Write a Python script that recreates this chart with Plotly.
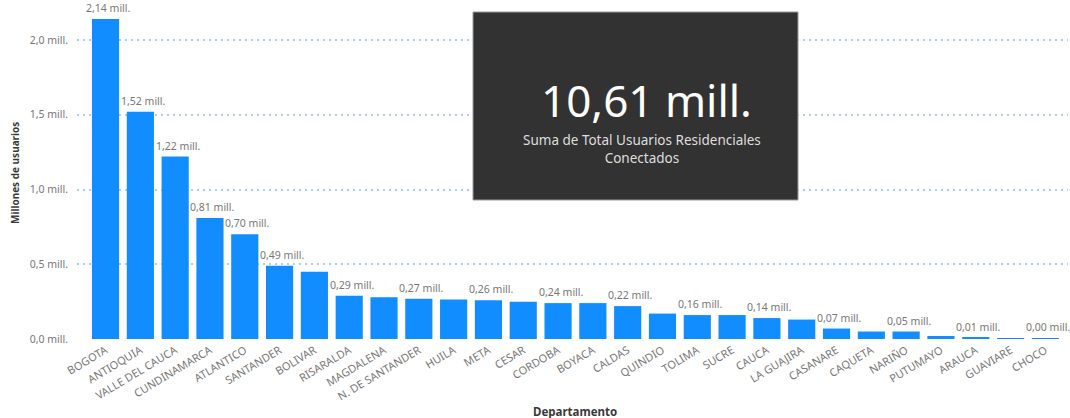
import plotly.graph_objects as go

# Usuarios residenciales conectados por departamento (millones)
departamentos = [
    "BOGOTA", "ANTIOQUIA", "VALLE DEL CAUCA", "CUNDINAMARCA", "ATLANTICO",
    "SANTANDER", "BOLIVAR", "RISARALDA", "MAGDALENA", "N. DE SANTANDER",
    "HUILA", "META", "CESAR", "CORDOBA", "BOYACA", "CALDAS", "QUINDIO",
    "TOLIMA", "SUCRE", "CAUCA", "LA GUAJIRA", "CASANARE", "CAQUETA",
    "NARIÑO", "PUTUMAYO", "ARAUCA", "GUAVIARE", "CHOCO",
]
usuarios = [
    2.14, 1.52, 1.22, 0.81, 0.70,
    0.49, 0.45, 0.29, 0.28, 0.27,
    0.265, 0.26, 0.25, 0.24, 0.24, 0.22, 0.17,
    0.16, 0.16, 0.14, 0.13, 0.07, 0.05,
    0.05, 0.02, 0.01, 0.005, 0.004,
]
# Departamentos con etiqueta de datos visible
con_etiqueta = {
    "BOGOTA", "ANTIOQUIA", "VALLE DEL CAUCA", "CUNDINAMARCA", "ATLANTICO",
    "SANTANDER", "RISARALDA", "N. DE SANTANDER", "META", "CORDOBA",
    "CALDAS", "TOLIMA", "CAUCA", "CASANARE", "NARIÑO", "ARAUCA", "CHOCO",
}
y_ticks = [0.0, 0.5, 1.0, 1.5, 2.0]


def mill(v, dec=2):
    return f"{v:.{dec}f}".replace(".", ",") + " mill."


FONT = "Noto Sans"
GRIS = "#777777"

# Área de trazado en píxeles
L, R, T, B = 77, 1068, 5, 339
W, H = R - L, B - T


def px(x):
    return (x - L) / W


def py(y):
    return (B - y) / H


fig = go.Figure()
fig.add_trace(go.Bar(
    x=departamentos,
    y=usuarios,
    marker=dict(color="#118DFF", line=dict(width=0)),
    hoverinfo="skip",
))

# Etiquetas de datos sobre las barras
for d, v in zip(departamentos, usuarios):
    if d in con_etiqueta:
        fig.add_annotation(
            x=d, y=v, text=mill(v), showarrow=False,
            yanchor="bottom", yshift=2, xshift=3,
            font=dict(family=FONT, size=10.5, color=GRIS),
        )

# Tarjeta con el total
total = sum(usuarios)
fig.add_shape(
    type="rect", xref="paper", yref="paper",
    x0=px(473), x1=px(798), y0=py(200), y1=py(12),
    fillcolor="#323232", line=dict(color="#9a9a9a", width=1), layer="above",
)
fig.add_annotation(
    xref="paper", yref="paper", x=px(646), y=py(100),
    text=mill(total), showarrow=False, yanchor="middle", xanchor="center",
    font=dict(family=FONT, size=44, color="#ffffff"),
)
fig.add_annotation(
    xref="paper", yref="paper", x=px(642), y=py(149),
    text="Suma de Total Usuarios Residenciales<br>Conectados",
    showarrow=False, yanchor="middle", xanchor="center", align="center",
    font=dict(family=FONT, size=13.5, color="#dedede"),
)

# Títulos de ejes
fig.add_annotation(
    xref="paper", yref="paper", x=px(575), y=py(411),
    text="<b>Departamento</b>", showarrow=False,
    yanchor="middle", xanchor="center",
    font=dict(family=FONT, size=11.5, color="#3a3a3a"),
)
fig.add_annotation(
    xref="paper", yref="paper", x=px(15), y=py(173),
    text="<b>Millones de usuarios</b>", showarrow=False, textangle=-90,
    yanchor="middle", xanchor="center",
    font=dict(family=FONT, size=10, color="#3a3a3a"),
)

fig.update_layout(
    width=1070, height=418,
    margin=dict(l=L, r=1070 - R, t=T, b=418 - B),
    paper_bgcolor="white", plot_bgcolor="white",
    showlegend=False, bargap=0.22,
)
fig.update_xaxes(
    range=[-0.82, 27.65], tickangle=-31, showgrid=False, showline=False,
    zeroline=False, ticks="", ticklabelstandoff=2,
    tickfont=dict(family=FONT, size=11, color=GRIS),
)
fig.update_yaxes(
    range=[0, H / 149.5], tickvals=y_ticks,
    ticktext=[mill(t, 1) for t in y_ticks],
    showgrid=True, gridcolor="#a9d0f5", griddash="2px,4px", gridwidth=1.5,
    zeroline=False, showline=False, ticks="", ticklabelstandoff=8,
    tickfont=dict(family=FONT, size=10.5, color=GRIS),
)

fig.write_html("out.html")
